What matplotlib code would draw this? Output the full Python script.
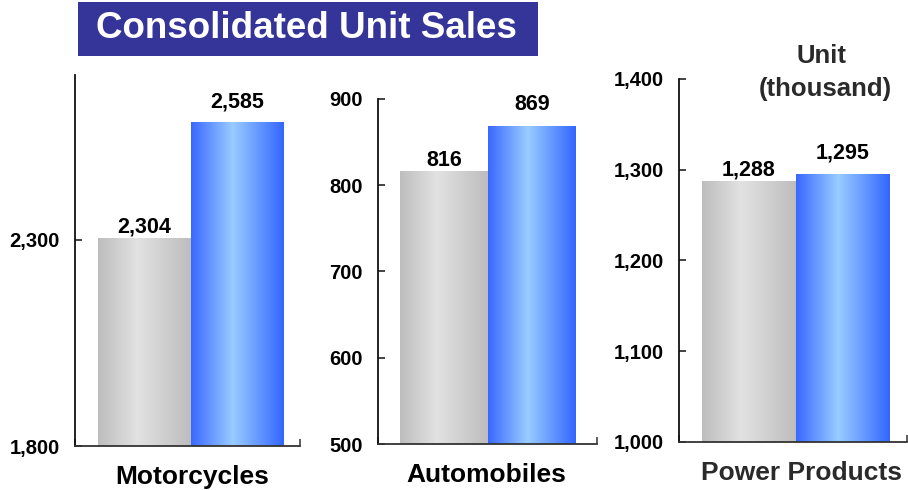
import numpy as np
import matplotlib
matplotlib.use("Agg")
import matplotlib.pyplot as plt
from matplotlib.colors import LinearSegmentedColormap, to_rgb
from matplotlib.patches import Rectangle

# ---------------- data ----------------
categories = ["Motorcycles", "Automobiles", "Power Products"]
prev_values = [2304, 816, 1288]
curr_values = [2585, 869, 1295]
y_limits = [(1800, 2700), (500, 900), (1000, 1400)]
y_ticks = [[1800, 2300], [500, 600, 700, 800, 900], [1000, 1100, 1200, 1300, 1400]]
title = "Consolidated Unit Sales"
unit_lines = ["Unit", "(thousand)"]

# ---------------- style ----------------
plt.rcParams['font.family'] = ['Liberation Sans', 'DejaVu Sans']
plt.rcParams['font.weight'] = 'bold'

W, H = 908, 490
fig = plt.figure(figsize=(W / 100, H / 100), dpi=100)
fig.patch.set_facecolor("white")

def fx(px):
    return px / W

def fy(py):
    return 1 - py / H

# axes rectangles in pixel coords: (left, top, right, bottom)
panel_px = [(75, 75, 300, 446), (378, 99, 597, 444), (679, 79, 907, 442)]
x_limits = [(-0.749, 1.684), (-0.75, 1.739), (-0.746, 1.69)]
label_dx = [2, -2, 6]

grey_cmap = LinearSegmentedColormap.from_list(
    "g", [(0, to_rgb("#BDBDBD")), (0.42, to_rgb("#E2E2E2")), (1, to_rgb("#BDBDBD"))])
blue_cmap = LinearSegmentedColormap.from_list(
    "b", [(0, to_rgb("#3A68FF")), (0.45, to_rgb("#99CCFF")), (1, to_rgb("#3366FF"))])
grad = np.linspace(0, 1, 256).reshape(1, -1)

def fill_gradient(ax, bars, cmap):
    for b in bars:
        x, y0 = b.get_x(), b.get_y()
        w, h = b.get_width(), b.get_height()
        im = ax.imshow(grad, cmap=cmap, aspect="auto", extent=[x, x + w, y0, y0 + h],
                       interpolation="bilinear", zorder=2)
        im.set_clip_path(b)

for i, cat in enumerate(categories):
    l, t, r, b = panel_px[i]
    ax = fig.add_axes([fx(l), fy(b), fx(r - l), fy(t) - fy(b)])
    ax.set_facecolor("none")
    lo = y_limits[i][0]
    bg = ax.bar([0], [prev_values[i] - lo], bottom=lo, width=1.0,
                facecolor="none", edgecolor="none", zorder=2)
    bb = ax.bar([1], [curr_values[i] - lo], bottom=lo, width=1.0,
                facecolor="none", edgecolor="none", zorder=2)
    fill_gradient(ax, bg, grey_cmap)
    fill_gradient(ax, bb, blue_cmap)

    ax.set_xlim(*x_limits[i])
    ax.set_ylim(*y_limits[i])
    ax.set_yticks(y_ticks[i])
    ax.set_yticklabels([f"{v:,}" for v in y_ticks[i]])
    ax.set_xticks(list(x_limits[i]))
    ax.set_xticklabels([])
    ax.tick_params(axis="y", direction="in", length=5, width=1.1, pad=11,
                   labelsize=14.5, color="#111111")
    ax.tick_params(axis="x", direction="in", length=5, width=1.1, color="#333333")
    for lab in ax.get_yticklabels():
        lab.set_fontweight("bold")
    for s in ["top", "right"]:
        ax.spines[s].set_visible(False)
    ax.spines["left"].set_linewidth(1.3)
    ax.spines["left"].set_color("#111111")
    ax.spines["bottom"].set_linewidth(1.3)
    ax.spines["bottom"].set_color("#333333")

    # value labels
    ax.annotate(f"{prev_values[i]:,}", xy=(0, prev_values[i]), xytext=(0, 8),
                textcoords="offset points", ha="center", va="center",
                fontsize=15.5, fontweight="bold", color="black", zorder=5)
    ax.annotate(f"{curr_values[i]:,}", xy=(1, curr_values[i]), xytext=(0, 15),
                textcoords="offset points", ha="center", va="center",
                fontsize=15.5, fontweight="bold", color="black", zorder=5)

    # category label
    ax.annotate(cat, xy=(0.5, 0), xycoords=("data", "axes fraction"),
                xytext=(label_dx[i] * 0.72, -22.5), textcoords="offset points",
                ha="center", va="center", fontsize=19, fontweight="bold",
                color="#2a2a2a" if i == 2 else "black", annotation_clip=False)

# title box
fig.patches.append(Rectangle((fx(78), fy(56)), fx(538 - 78), fy(2) - fy(56),
                             transform=fig.transFigure, facecolor="#353599",
                             edgecolor="none", zorder=0))
fig.text(fx(306), fy(28), title, ha="center", va="center", fontsize=26.5,
         fontweight="bold", color="white")

# unit label
fig.text(fx(821), fy(56), unit_lines[0], ha="center", va="center", fontsize=18.5,
         fontweight="bold", color="#2a2a2a")
fig.text(fx(825), fy(89), unit_lines[1], ha="center", va="center", fontsize=18.5,
         fontweight="bold", color="#2a2a2a")

fig.savefig("out.png", dpi=100)
